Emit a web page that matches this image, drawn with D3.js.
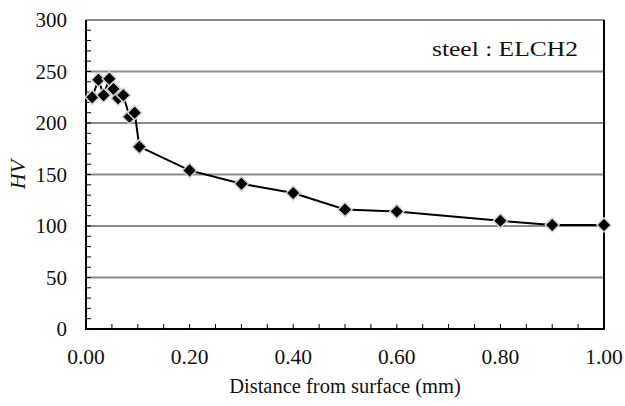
<!DOCTYPE html>
<html><head><meta charset="utf-8">
<script src="https://cdn.jsdelivr.net/npm/d3@7"></script>
<style>body{margin:0;background:#fff} text{font-family:"Liberation Serif","Times New Roman",serif;fill:#111}</style>
</head><body>
<svg id="c" width="625" height="406"></svg>
<script>
const distance = [0.012, 0.024, 0.034, 0.045, 0.053, 0.062, 0.072, 0.084, 0.094, 0.103, 0.20, 0.30, 0.40, 0.50, 0.60, 0.80, 0.90, 1.00];
const hardness = [225, 242, 227, 243, 233, 224, 227, 206, 210, 177, 154, 141, 132, 116, 114, 105, 101, 101];
const xTicks = [0, 0.2, 0.4, 0.6, 0.8, 1.0];
const yTicks = [0, 50, 100, 150, 200, 250, 300];
const label = "steel : ELCH2";

const svg = d3.select("#c");
const L = 86, R = 604, T = 20, B = 329;
const x = d3.scaleLinear().domain([0, 1]).range([L, R]);
const y = d3.scaleLinear().domain([0, 300]).range([B, T]);

// gridlines
svg.append("g").selectAll("line").data(yTicks.filter(d => d > 0)).join("line")
  .attr("x1", L).attr("x2", R).attr("y1", d => y(d)).attr("y2", d => y(d))
  .attr("stroke", "#8a8a8a").attr("stroke-width", 2);

// minor ticks
svg.append("g").selectAll("line").data(d3.range(0, 300, 10)).join("line")
  .attr("x1", L).attr("x2", L + 5).attr("y1", d => y(d)).attr("y2", d => y(d))
  .attr("stroke", "#000").attr("stroke-width", 1);
svg.append("g").selectAll("line").data(d3.range(0.05, 1.0, 0.05)).join("line")
  .attr("x1", d => x(d)).attr("x2", d => x(d)).attr("y1", B).attr("y2", B - 5)
  .attr("stroke", "#000").attr("stroke-width", 1);

// frame (left, bottom, right)
svg.append("path").attr("d", `M${L},${T}V${B}H${R}V${T}`)
  .attr("fill", "none").attr("stroke", "#000").attr("stroke-width", 2);

// tick labels
svg.append("g").selectAll("text").data(yTicks).join("text")
  .attr("x", 67).attr("y", d => y(d)).attr("dy", "0.35em").attr("text-anchor", "end")
  .attr("font-size", 21).text(d => d);
svg.append("g").selectAll("text").data(xTicks).join("text")
  .attr("x", d => x(d)).attr("y", 364).attr("text-anchor", "middle")
  .attr("font-size", 21.5).text(d => d.toFixed(2));

// axis titles
svg.append("text").attr("x", x(0.5)).attr("y", 393).attr("text-anchor", "middle")
  .attr("font-size", 20.5).text("Distance from surface (mm)");
svg.append("text").attr("transform", `translate(25,${y(150)}) rotate(-90)`)
  .attr("text-anchor", "middle").attr("font-style", "italic")
  .attr("font-size", 22).text("HV");

svg.append("text").attr("x", 432).attr("y", 56)
  .attr("font-size", 22).attr("textLength", 146).attr("lengthAdjust", "spacingAndGlyphs").text(label);

// line
const pts = distance.map((d, i) => [d, hardness[i]]);
svg.append("path").datum(pts)
  .attr("d", d3.line().x(d => x(d[0])).y(d => y(d[1])))
  .attr("fill", "none").attr("stroke", "#000").attr("stroke-width", 2);

// markers (square rotated 45°)
const sym = d3.symbol().type(d3.symbolSquare).size(100);
svg.append("g").selectAll("path").data(pts).join("path")
  .attr("transform", d => `translate(${x(d[0])},${y(d[1])}) rotate(45)`)
  .attr("d", sym).attr("fill", "#000").attr("stroke", "#d0d0d0").attr("stroke-width", 1.5);
</script>
</body></html>
